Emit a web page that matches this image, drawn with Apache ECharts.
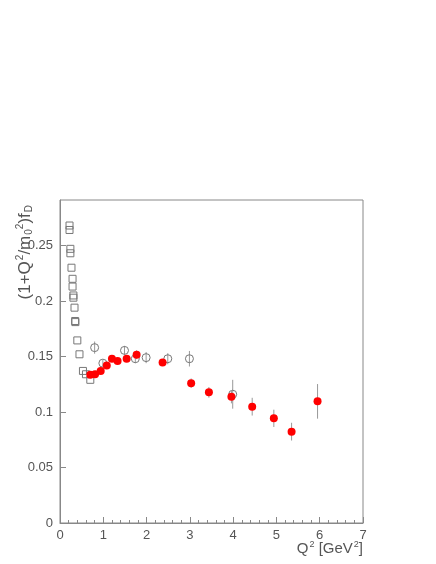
<!DOCTYPE html>
<html>
<head>
<meta charset="utf-8">
<script src="https://cdn.jsdelivr.net/npm/echarts@6/dist/echarts.min.js"></script>
<style>html,body{margin:0;padding:0;background:#fff;}#c{width:436px;height:564px;}</style>
</head>
<body>
<div id="c"></div>
<script>
// Open squares (low Q2)
var sqQ2 = [0.22,0.22,0.24,0.24,0.265,0.29,0.29,0.31,0.31,0.335,0.35,0.355,0.40,0.45,0.53,0.60,0.70];
var sqY  = [0.268,0.264,0.247,0.243,0.230,0.220,0.213,0.205,0.203,0.194,0.182,0.181,0.1645,0.152,0.137,0.134,0.129];
// Open circles
var ocQ2  = [0.80,0.99,1.49,1.74,1.99,2.49,2.99,3.99];
var ocY   = [0.158,0.144,0.1555,0.148,0.149,0.148,0.148,0.116];
var ocErr = [0.0055,0.003,0.004,0.004,0.005,0.005,0.007,0.013];
// Red filled circles
var rdQ2  = [0.70,0.81,0.94,1.08,1.20,1.33,1.54,1.77,2.37,3.03,3.44,3.96,4.44,4.94,5.35,5.95];
var rdY   = [0.1336,0.134,0.137,0.142,0.148,0.146,0.148,0.1516,0.1447,0.126,0.1177,0.1138,0.1048,0.0943,0.0823,0.1096];
var rdErr = [0.003,0.003,0.003,0.003,0.003,0.003,0.003,0.004,0.003,0.0042,0.0048,0.006,0.008,0.0078,0.008,0.0156];

function pts(xs, ys){ return xs.map(function(x,i){return [x, ys[i]];}); }
function bars(xs, ys, es){ return xs.map(function(x,i){return [x, ys[i]-es[i], ys[i]+es[i]];}); }
function errRender(color, w){
  return function(params, api){
    var p1 = api.coord([api.value(0), api.value(1)]);
    var p2 = api.coord([api.value(0), api.value(2)]);
    return {type:'line', shape:{x1:p1[0],y1:p1[1],x2:p2[0],y2:p2[1]}, style:{stroke:color, lineWidth:w}};
  };
}

var chart = echarts.init(document.getElementById('c'), null, {renderer:'canvas'});
var txt = '#555', ax = '#888';
chart.setOption({
  animation:false,
  backgroundColor:'#fff',
  grid:{left:60, right:73, top:200, bottom:41, show:true, borderColor:ax, borderWidth:1},
  xAxis:{
    type:'value', min:0, max:7, interval:1,
    axisLine:{onZero:false, lineStyle:{color:ax}},
    axisTick:{inside:true, length:6, lineStyle:{color:ax}},
    minorTick:{show:true, splitNumber:5, length:3, lineStyle:{color:ax}},
    splitLine:{show:false},
    axisLabel:{color:txt, fontSize:13, margin:6, fontFamily:'Liberation Sans'}
  },
  yAxis:{
    type:'value', min:0, max:0.291, interval:0.05,
    axisLine:{onZero:false, lineStyle:{color:ax}},
    axisTick:{inside:true, length:6, lineStyle:{color:ax}},
    splitLine:{show:false},
    axisLabel:{color:txt, fontSize:13, margin:7, showMaxLabel:false, fontFamily:'Liberation Sans'}
  },
  graphic:[
    {type:'text', x:25, y:205, rotation:Math.PI/2,
      style:{text:'(1+Q{sup|2}/m{sub|0}{sup2|2})f{sub|D}', fill:txt, font:'17px "Liberation Sans"', align:'right', verticalAlign:'middle',
        rich:{sup:{fontSize:10, verticalAlign:'top', fill:txt, padding:[0,0,8,1]}, sup2:{fontSize:10, fill:txt, padding:[0,0,10,0]}, sub:{fontSize:10, fill:txt, padding:[8,0,0,1]}}}},
    {type:'text', x:363, y:549,
      style:{text:'Q{sup|2} [GeV{sup|2}]', fill:txt, font:'15px "Liberation Sans"', align:'right', verticalAlign:'middle',
        rich:{sup:{fontSize:9, fill:txt, padding:[0,0,8,1]}}}}
  ],
  series:[
    {type:'custom', renderItem:errRender('#999',1), data:bars(ocQ2,ocY,ocErr), z:1, silent:true},
    {type:'scatter', symbol:'rect', symbolSize:7, data:pts(sqQ2,sqY), z:2,
      itemStyle:{color:'transparent', borderColor:'#777', borderWidth:1, opacity:1}},
    {type:'scatter', symbol:'circle', symbolSize:8, data:pts(ocQ2,ocY), z:2,
      itemStyle:{color:'transparent', borderColor:'#777', borderWidth:1, opacity:1}},
    {type:'custom', renderItem:errRender('#999',1), data:bars(rdQ2,rdY,rdErr), z:3, silent:true},
    {type:'scatter', symbol:'circle', symbolSize:8, data:pts(rdQ2,rdY), z:4,
      itemStyle:{color:'#ff0000', opacity:1}}
  ]
});
</script>
</body>
</html>
